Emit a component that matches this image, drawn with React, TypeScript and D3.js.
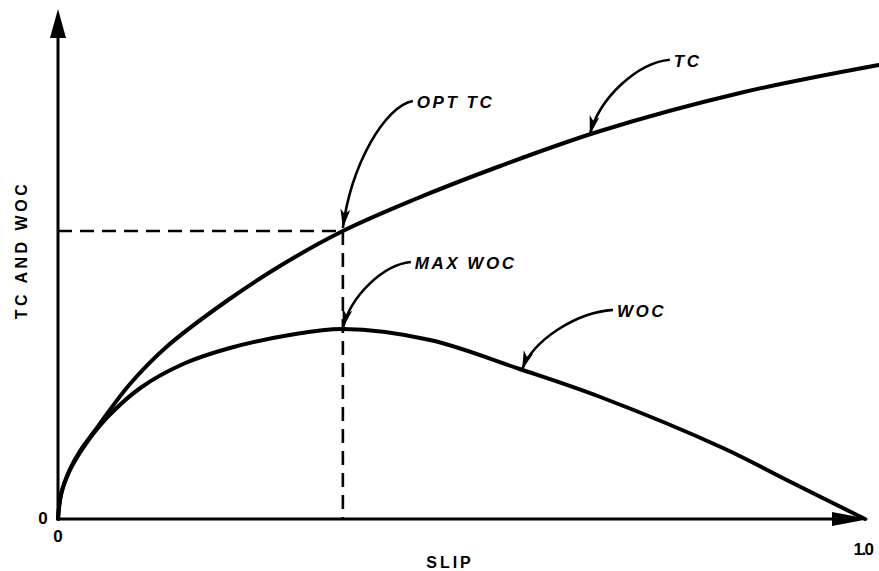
import React from "react";
import * as d3 from "d3";

// Slip (0..1) and relative level for the two characteristic curves.
const tcSlip = [0, 0.004, 0.0149, 0.028, 0.0434, 0.0892, 0.135, 0.209, 0.275, 0.353, 0.44, 0.548, 0.672, 0.845, 1.017];
const tcValue = [0, 0.052, 0.1, 0.138, 0.172, 0.27, 0.345, 0.436, 0.506, 0.576, 0.638, 0.706, 0.776, 0.852, 0.908];

const wocSlip = [0, 0.004, 0.0149, 0.031, 0.061, 0.102, 0.155, 0.213, 0.287, 0.353, 0.461, 0.572, 0.672, 0.824, 0.903, 1.0];
const wocValue = [0, 0.05, 0.098, 0.142, 0.203, 0.262, 0.31, 0.342, 0.368, 0.38, 0.358, 0.3, 0.244, 0.142, 0.078, 0];

// Optimum slip where WOC peaks.
const optSlip = 0.353;

const xTickLabels = ["0", "1.0"];
const yTickLabels = ["0"];

const W = 879;
const H = 571;

type Pt = { s: number; v: number };

const tcData: Pt[] = tcSlip.map((s, i) => ({ s, v: tcValue[i] }));
const wocData: Pt[] = wocSlip.map((s, i) => ({ s, v: wocValue[i] }));

function valueAt(data: Pt[], s: number): number {
  const i = d3.bisector((d: Pt) => d.s).left(data, s);
  if (i <= 0) return data[0].v;
  if (i >= data.length) return data[data.length - 1].v;
  const a = data[i - 1];
  const b = data[i];
  const t = (s - a.s) / (b.s - a.s);
  return a.v + t * (b.v - a.v);
}

export default function App() {
  const x = d3.scaleLinear().domain([0, 1]).range([58, 865]);
  const y = d3.scaleLinear().domain([0, 1]).range([519, 19]);

  const line = d3
    .line<Pt>()
    .x((d) => x(d.s))
    .y((d) => y(d.v))
    .curve(d3.curveCatmullRom.alpha(0.5));

  const x0 = x(0);
  const y0 = y(0);
  const optTc = valueAt(tcData, optSlip);

  // Callouts: a label with a curved leader ending in an arrow on a curve.
  const callouts = [
    { text: "OPT TC", data: tcData, s: optSlip, dx: 70, dy: -127, tipDy: -3 },
    { text: "MAX WOC", data: wocData, s: optSlip, dx: 68, dy: -66, tipDy: -1 },
    { text: "TC", data: tcData, s: 0.659, dx: 80, dy: -75, tipDy: 0 },
    { text: "WOC", data: wocData, s: 0.575, dx: 91, dy: -60, tipDy: 0 },
  ];

  const labelFont = "'Liberation Sans', Arial, sans-serif";

  return (
    <svg width={W} height={H} style={{ position: "absolute", left: 0, top: 0, background: "#fff" }}>
      <defs>
        <marker
          id="lead"
          markerUnits="userSpaceOnUse"
          viewBox="-20 -7 22 14"
          refX={0}
          refY={0}
          markerWidth={22}
          markerHeight={14}
          orient="auto"
        >
          <path d="M0,0 L-19,-5 L-14,0 L-19,5 Z" fill="#000" />
        </marker>
      </defs>
      <rect width={W} height={H} fill="#fff" />

      {/* dashed guides at the optimum */}
      <g stroke="#000" strokeWidth={2.6} strokeDasharray="14 8" fill="none">
        <line x1={x0} y1={y(optTc)} x2={x(optSlip)} y2={y(optTc)} />
        <line x1={x(optSlip)} y1={y(optTc)} x2={x(optSlip)} y2={y0} />
      </g>

      {/* axes */}
      <g stroke="#000" strokeWidth={3} fill="none">
        <line x1={x0} y1={y0} x2={x0} y2={20} />
        <line x1={x0} y1={y0} x2={840} y2={y0} />
      </g>
      <path d={`M${x0},9 L${x0 - 8},38 L${x0 + 8},38 Z`} fill="#000" />
      <path d={`M869,${y0} L832,${y0 - 7} L832,${y0 + 7} Z`} fill="#000" />

      {/* curves */}
      <g stroke="#000" strokeWidth={4} fill="none" strokeLinecap="round">
        <path d={line(tcData) ?? ""} />
        <path d={line(wocData) ?? ""} />
      </g>

      {/* callouts */}
      {callouts.map((c) => {
        const tx = x(c.s);
        const ty = y(valueAt(c.data, c.s)) + c.tipDy;
        const sx = tx + c.dx;
        const sy = ty + c.dy;
        const c1x = sx - 0.4 * c.dx;
        const c1y = sy + 0.04 * -c.dy;
        const c2x = tx + 0.12 * c.dx;
        const c2y = ty + 0.5 * c.dy;
        return (
          <g key={c.text}>
            <path
              d={`M${sx},${sy} C${c1x},${c1y} ${c2x},${c2y} ${tx},${ty}`}
              stroke="#000"
              strokeWidth={2.6}
              fill="none"
              markerEnd="url(#lead)"
            />
            <text
              x={sx + 4}
              y={sy + 7}
              fontFamily={labelFont}
              fontWeight={700}
              fontStyle="italic"
              fontSize={17}
              letterSpacing={2.5}
              fill="#000"
            >
              {c.text}
            </text>
          </g>
        );
      })}

      {/* tick labels */}
      <g fontFamily={labelFont} fontWeight={700} fontSize={17} fill="#000">
        <text x={x0 - 15} y={y0 + 5} textAnchor="middle">{yTickLabels[0]}</text>
        <text x={x(0)} y={y0 + 23} textAnchor="middle">{xTickLabels[0]}</text>
        <text x={x(1) - 2} y={y0 + 36} textAnchor="middle" letterSpacing={-1.5}>{xTickLabels[1]}</text>
      </g>

      {/* axis titles */}
      <text
        x={450}
        y={568}
        textAnchor="middle"
        fontFamily={labelFont}
        fontWeight={700}
        fontSize={16}
        letterSpacing={3}
        fill="#000"
      >
        SLIP
      </text>
      <text
        transform="translate(27,250) rotate(-90)"
        textAnchor="middle"
        fontFamily={labelFont}
        fontWeight={700}
        fontSize={16}
        letterSpacing={3.5}
        fill="#000"
      >
        TC AND WOC
      </text>
    </svg>
  );
}
